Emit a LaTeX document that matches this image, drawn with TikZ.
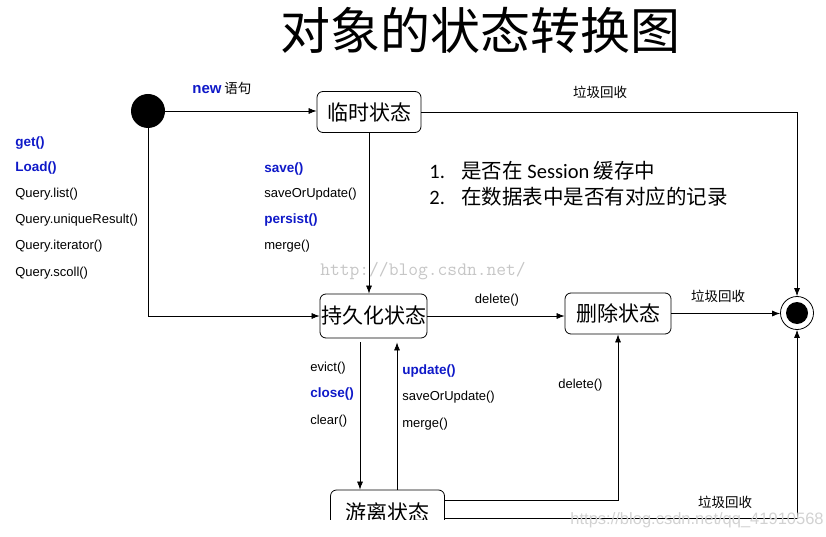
\documentclass[tikz,border=0pt]{standalone}
\usepackage{fontspec}
\setmainfont{Liberation Sans}
\newfontfamily\cjk{Noto Sans CJK SC}
\newfontfamily\calib{Carlito}
\usetikzlibrary{arrows.meta}
\definecolor{kwblue}{RGB}{15,25,200}
\tikzset{
  statebox/.style={draw, rounded corners=6pt, inner sep=0pt, line width=0.8pt,
    font=\cjk\fontsize{21}{21}\selectfont},
  lbl/.style={anchor=west, inner sep=0pt, font=\fontsize{13}{13}\selectfont},
  kw/.style={lbl, text=kwblue, font=\bfseries\fontsize{13.5}{13.5}\selectfont},
  gc/.style={inner sep=0pt, font=\cjk\fontsize{13.5}{13.5}\selectfont},
}
\begin{document}
\begin{tikzpicture}[x=1pt,y=-1pt,line width=0.7pt,>={Latex[length=8pt,width=6pt]}]
\useasboundingbox (0,0) rectangle (826,537);

\node[font=\cjk\fontsize{50}{50}\selectfont] (title) at (480,30) {对象的状态转换图};

% states
\node[circle, fill, minimum size=34pt, inner sep=0pt] (init) at (148,111) {};
\node[statebox, minimum width=104pt, minimum height=41pt] (temp) at (369,112) {临时状态};
\node[statebox, minimum width=107pt, minimum height=44pt] (pers) at (373.5,316) {持久化状态};
\node[statebox, minimum width=106pt, minimum height=41pt] (del) at (618,313.5) {删除状态};
\begin{scope}
  \clip (0,0) rectangle (826,519);
  \node[statebox, minimum width=114pt, minimum height=44pt] (det) at (387.5,512) {游离状态};
\end{scope}
\node[circle, draw, line width=0.8pt, minimum size=33pt, inner sep=0pt] (final) at (797,313) {};
\fill (final.center) circle (11pt);

% transitions
\draw[->] (init) -- (init -| temp.west);
\node[anchor=west, inner sep=0pt] (newlbl) at (192,88) {{\bfseries\color{kwblue}\fontsize{15}{15}\selectfont new} {\cjk\fontsize{13.5}{13.5}\selectfont 语句}};
\draw[->] (init.south) |- (pers.west);
\draw[->] (temp.south) -- (temp.south |- pers.north);
\draw[->] (temp.east) -| (final.north);
\node[gc] (gc1) at (600,92) {垃圾回收};
\draw[->] (pers.east) -- (pers.east -| del.west);
\node[lbl, anchor=center] (del1) at (497,300) {delete()};
\draw[->] (del.east) -- (del.east -| final.west);
\node[gc] (gc2) at (718,296) {垃圾回收};
\draw[->, shorten <=4pt] ([xshift=-13.5pt]pers.south) -- ([xshift=-13.5pt]pers.south |- det.north);
\draw[->, shorten >=4pt] ([xshift=23.5pt]pers.south |- det.north) -- ([xshift=23.5pt]pers.south);
\draw[->] ([yshift=12pt]det.east) -| (del.south);
\node[lbl] (del2) at (558,385) {delete()};
\draw[->] ([yshift=-6pt]det.east) -| (final.south);
\node[gc] (gc3) at (725,502) {垃圾回收};

% methods
\node[kw] (get) at (15,143) {get()};
\node[kw] (load) at (15,168) {Load()};
\node[lbl] (qlist) at (15,194) {Query.list()};
\node[lbl] (quniq) at (15,220) {Query.uniqueResult()};
\node[lbl] (qiter) at (15,246) {Query.iterator()};
\node[lbl] (qscoll) at (15,273) {Query.scoll()};

\node[kw] (save) at (264,169) {save()};
\node[lbl] (sou1) at (264,194) {saveOrUpdate()};
\node[kw] (persist) at (264,220) {persist()};
\node[lbl] (merge1) at (264,246) {merge()};

\node[lbl] (evict) at (310,368) {evict()};
\node[kw] (close) at (310,394) {close()};
\node[lbl] (clear) at (310,421) {clear()};

\node[kw] (update) at (402,371) {update()};
\node[lbl] (sou2) at (402,397) {saveOrUpdate()};
\node[lbl] (merge2) at (402,424) {merge()};

% notes
\node[anchor=west, inner sep=0pt, font=\cjk\fontsize{20.5}{20.5}\selectfont] (note1) at (429,171)
  {{\calib\makebox[32pt][l]{1.}}是否在 {\calib Session} 缓存中};
\node[anchor=west, inner sep=0pt, font=\cjk\fontsize{20.5}{20.5}\selectfont] (note2) at (429,197)
  {{\calib\makebox[32pt][l]{2.}}在数据表中是否有对应的记录};

% watermarks
\node[text=gray!45, font=\ttfamily\fontsize{19}{19}\selectfont] (wm1) at (423,271) {http://blog.csdn.net/};
\node[anchor=east, inner sep=0pt, text=gray!35, font=\fontsize{16.5}{16.5}\selectfont] (wm2) at (824,520) {https://blog.csdn.net/qq\_41910568};
\end{tikzpicture}
\end{document}
